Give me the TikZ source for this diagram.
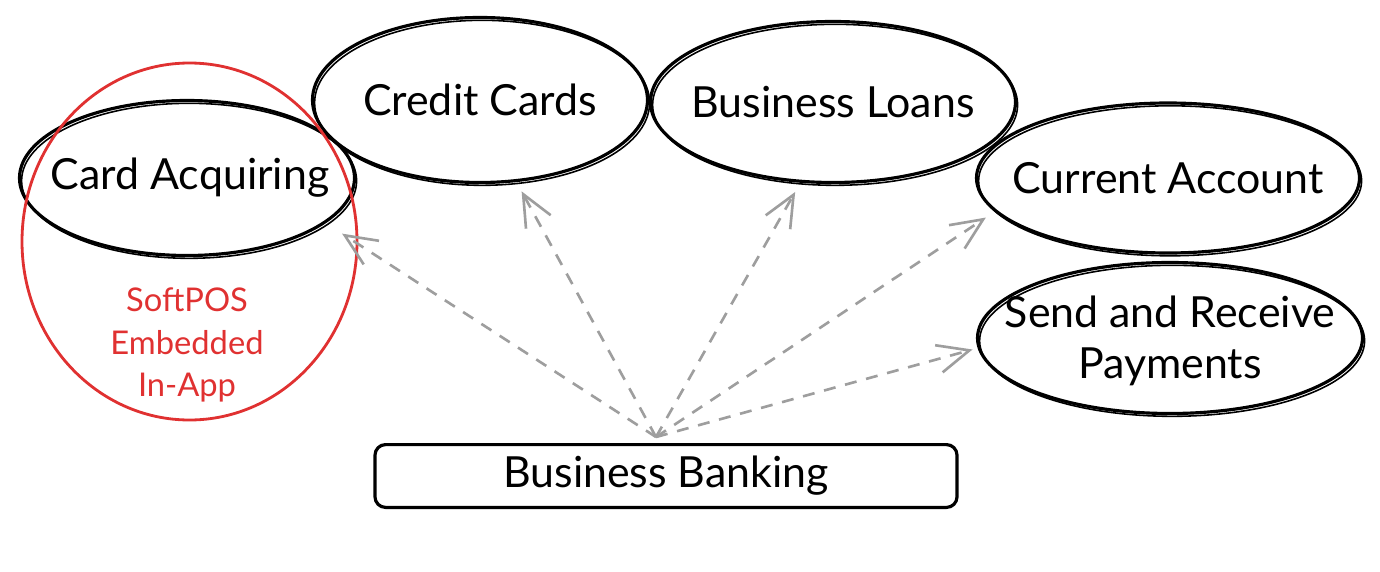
\documentclass[tikz,border=0pt]{standalone}
\usepackage{fontspec}
\setmainfont{Lato}
\usepackage{xcolor}
\usepackage{tikz}
\usetikzlibrary{arrows.meta}
\usetikzlibrary{calc}
\usetikzlibrary{shapes.geometric}
\usetikzlibrary{positioning}

\definecolor{inkred}{HTML}{E03131}
\definecolor{inkgray}{HTML}{9E9E9E}

\begin{document}
\begin{tikzpicture}[>={Straight Barb[length=9pt,width=8pt]},semithick]
	\tikzstyle{oval}=[draw, ellipse, inner sep=0pt, line width=0.9pt,
		postaction={draw, line width=0.45pt, transform canvas={shift={(0.6pt,-0.8pt)}}}]
	\tikzstyle{txt}=[align=center, font=\fontsize{12.2}{15}\selectfont]
	\tikzstyle{dep}=[->, draw=inkgray, line width=0.75pt, dash pattern=on 3.4pt off 2.8pt, shorten >=3pt]
	\useasboundingbox (0,0) rectangle (13.8,5.71);
	% products
	\node[oval, minimum width=3.35cm, minimum height=1.55cm] 	(CA) at (1.87,3.93) {};
	\node[oval, minimum width=3.35cm, minimum height=1.65cm] 	(CC) at (4.80,4.71) {};
	\node[oval, minimum width=3.65cm, minimum height=1.61cm] 	(BL) at (8.33,4.69) {};
	\node[oval, minimum width=3.83cm, minimum height=1.50cm] 	(CU) at (11.68,3.93) {};
	\node[oval, minimum width=3.85cm, minimum height=1.51cm] 	(SR) at (11.70,2.33) {};
	\node[txt] (CAt) at (1.90,3.93) {Card Acquiring};
	\node[txt] (CCt) at (CC) {Credit Cards};
	\node[txt] (BLt) at (BL) {Business Loans};
	\node[txt] (CUt) at (CU) {Current Account};
	\node[txt, font=\fontsize{12.2}{14.5}\selectfont] (SRt) at (11.70,2.30) {Send and Receive\\Payments};
	% acquiring ring
	\node[draw=inkred, ellipse, inner sep=0pt, line width=0.8pt,
		minimum width=3.35cm, minimum height=3.57cm] (ring) at (1.895,3.295) {};
	\node[txt, text=inkred, font=\fontsize{9.3}{12}\selectfont] (soft) at (1.87,2.26) {SoftPOS\\Embedded\\In-App};
	% base
	\node[draw, rounded corners=3pt, line width=0.9pt, minimum width=5.82cm, minimum height=0.59cm,
		txt] (bank) at (6.66,0.95) {Business Banking};
	\coordinate (hub) at ([xshift=-1mm,yshift=0.6mm]bank.north);
	\path
		(hub) edge[dep, shorten >=5.5pt] (CA.-18)
		(hub) edge[dep] (CC.-66)
		(hub) edge[dep] (BL.-112)
		(hub) edge[dep] (CU.191)
		(hub) edge[dep, shorten >=1.5pt] (SR.183);
\end{tikzpicture}
\end{document}
